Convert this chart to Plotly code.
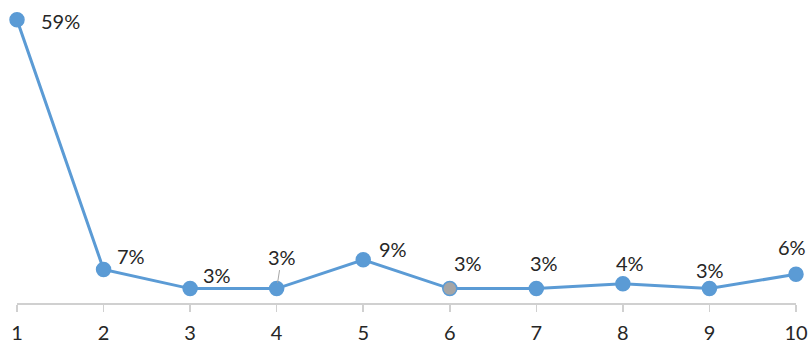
import plotly.graph_objects as go

categories = [1, 2, 3, 4, 5, 6, 7, 8, 9, 10]
values = [59, 7, 3, 3, 9, 3, 3, 4, 3, 6]
labels = ["59%", "7%", "3%", "3%", "9%", "3%", "3%", "4%", "3%", "6%"]

# label offsets in pixels (text centre relative to point)
label_dx = [43, 27, 27, 5, 30, 18, 8, 7, 1, -4]
label_dy = [1, -13, -14, -32, -11, -26, -26, -21, -19, -27]
leader = [False, False, False, True, False, False, False, False, False, False]

marker_colors = ["#5b9bd5"] * 10
marker_colors[5] = "#a5a5a5"

FONT = "Lato, Noto Sans, sans-serif"

fig = go.Figure()
fig.add_trace(go.Scatter(
    x=categories, y=values, mode="lines+markers",
    line=dict(color="#5b9bd5", width=3),
    marker=dict(size=14, color=marker_colors, line=dict(color="#5b9bd5", width=1.5)),
    cliponaxis=False, hoverinfo="skip",
))

for c, v, t, dx, dy, ld in zip(categories, values, labels, label_dx, label_dy, leader):
    fig.add_annotation(
        x=c, y=v, text=t, xref="x", yref="y",
        showarrow=True, ax=dx, ay=dy,
        arrowhead=0, arrowwidth=1,
        arrowcolor="#a6a6a6" if ld else "rgba(0,0,0,0)",
        standoff=6,
        font=dict(family=FONT, size=20, color="#262626"),
    )

fig.update_layout(
    width=811, height=340,
    margin=dict(l=17, r=15, t=15, b=37, autoexpand=False),
    paper_bgcolor="white", plot_bgcolor="white",
    showlegend=False,
    xaxis=dict(
        range=[1, 10], tickvals=categories, ticktext=[str(c) for c in categories],
        automargin=False,
        showgrid=False, zeroline=False, showline=True, linecolor="#d0d0d0", linewidth=1.5,
        ticks="outside", ticklen=7, tickcolor="#d0d0d0", tickwidth=1.5,
        ticklabelstandoff=4,
        tickfont=dict(family=FONT, size=20, color="#262626"),
    ),
    yaxis=dict(range=[0, 60], visible=False, showgrid=False, zeroline=False, automargin=False),
)

fig.write_html(
    "out.html",
    config={"displayModeBar": False, "staticPlot": True},
    post_script="document.body.style.margin='0';document.body.style.overflow='hidden';",
)
